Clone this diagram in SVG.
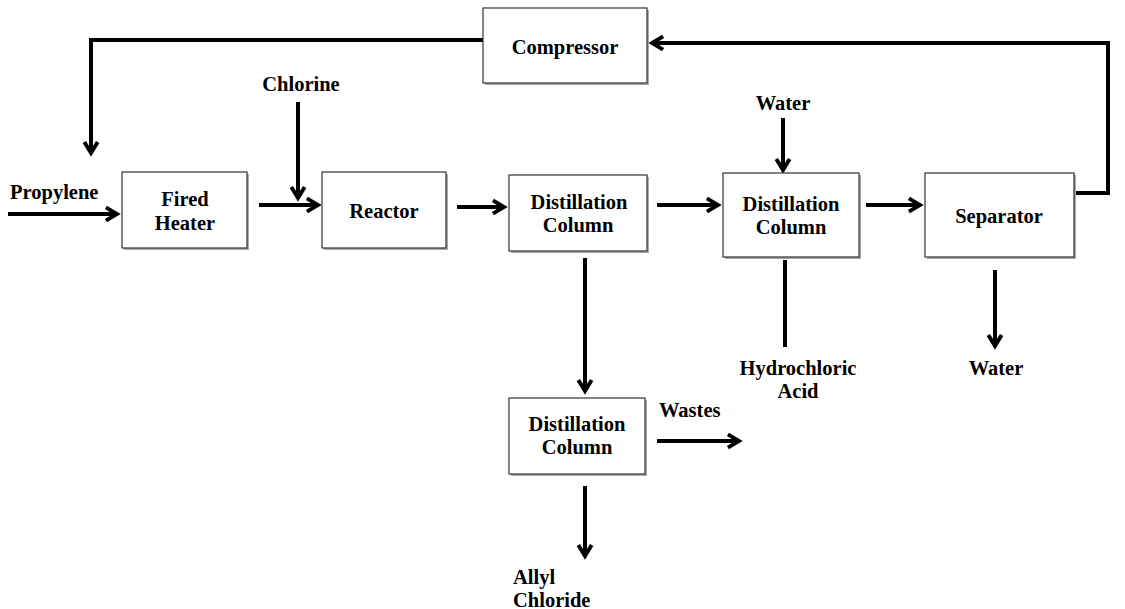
<svg xmlns="http://www.w3.org/2000/svg" width="1125" height="609" viewBox="0 0 1125 609">
<style>
.box{fill:#fff;stroke:#333;stroke-width:1.2}
.sh{fill:#aaa}
.t{font-family:"Liberation Serif","Times New Roman",serif;font-weight:bold;font-size:20.5px;fill:#000;text-anchor:middle}
.l{font-family:"Liberation Serif","Times New Roman",serif;font-weight:bold;font-size:20.5px;fill:#000}
.c{fill:none;stroke:#000;stroke-width:4}
</style>
<defs>
<marker id="a" markerUnits="userSpaceOnUse" markerWidth="20" markerHeight="20" viewBox="-14 -9 18 18" refX="0" refY="0" orient="auto">
<polyline points="-10,-6 0,0 -10,6" fill="none" stroke="#000" stroke-width="3.5"/>
</marker>
</defs>
<rect width="1125" height="609" fill="#fff"/>
<g id="connectors">
<polyline class="c" points="483,40 91,40 91,153" marker-end="url(#a)"/>
<polyline class="c" points="1075,193 1108,193 1108,43 652,43" marker-end="url(#a)"/>
<line class="c" x1="8" y1="214" x2="117" y2="214" marker-end="url(#a)"/>
<line class="c" x1="298" y1="102" x2="298" y2="198" marker-end="url(#a)"/>
<line class="c" x1="259" y1="205" x2="318" y2="205" marker-end="url(#a)"/>
<line class="c" x1="457" y1="207" x2="504" y2="207" marker-end="url(#a)"/>
<line class="c" x1="657" y1="205" x2="718" y2="205" marker-end="url(#a)"/>
<line class="c" x1="783" y1="118" x2="783" y2="170" marker-end="url(#a)"/>
<line class="c" x1="866" y1="205" x2="920" y2="205" marker-end="url(#a)"/>
<line class="c" x1="785" y1="260" x2="785" y2="347"/>
<line class="c" x1="995" y1="270" x2="995" y2="346" marker-end="url(#a)"/>
<line class="c" x1="585" y1="258" x2="585" y2="391" marker-end="url(#a)"/>
<line class="c" x1="657" y1="441" x2="739" y2="441" marker-end="url(#a)"/>
<line class="c" x1="585" y1="486" x2="585" y2="556" marker-end="url(#a)"/>
</g>
<g id="compressor">
<rect class="sh" x="485" y="10" width="164" height="75"/>
<rect class="box" x="483" y="8" width="164" height="75"/>
<text class="t" x="565" y="54">Compressor</text>
</g>
<g id="fired-heater">
<rect class="sh" x="124" y="174" width="125" height="76"/>
<rect class="box" x="122" y="172" width="125" height="76"/>
<text class="t" x="185" y="206">Fired</text>
<text class="t" x="185" y="230">Heater</text>
</g>
<g id="reactor">
<rect class="sh" x="324" y="174" width="124" height="76"/>
<rect class="box" x="322" y="172" width="124" height="76"/>
<text class="t" x="384" y="218">Reactor</text>
</g>
<g id="distillation-1">
<rect class="sh" x="511" y="177" width="138" height="76"/>
<rect class="box" x="509" y="175" width="138" height="76"/>
<text class="t" x="579" y="209">Distillation</text>
<text class="t" x="578" y="232">Column</text>
</g>
<g id="distillation-2">
<rect class="sh" x="725" y="175" width="136" height="84"/>
<rect class="box" x="723" y="173" width="136" height="84"/>
<text class="t" x="791" y="211">Distillation</text>
<text class="t" x="791" y="234">Column</text>
</g>
<g id="separator">
<rect class="sh" x="927" y="175" width="149" height="84"/>
<rect class="box" x="925" y="173" width="149" height="84"/>
<text class="t" x="999" y="223">Separator</text>
</g>
<g id="distillation-3">
<rect class="sh" x="511" y="400" width="136" height="76"/>
<rect class="box" x="509" y="398" width="136" height="76"/>
<text class="t" x="577" y="431">Distillation</text>
<text class="t" x="577" y="454">Column</text>
</g>
<g id="labels">
<text class="l" x="10" y="199">Propylene</text>
<text class="t" x="301" y="91">Chlorine</text>
<text class="t" x="783" y="110">Water</text>
<text class="t" x="798" y="375">Hydrochloric</text>
<text class="t" x="798" y="398">Acid</text>
<text class="t" x="996" y="375">Water</text>
<text class="l" x="659" y="417">Wastes</text>
<text class="l" x="513" y="584">Allyl</text>
<text class="l" x="513" y="607">Chloride</text>
</g>
</svg>
